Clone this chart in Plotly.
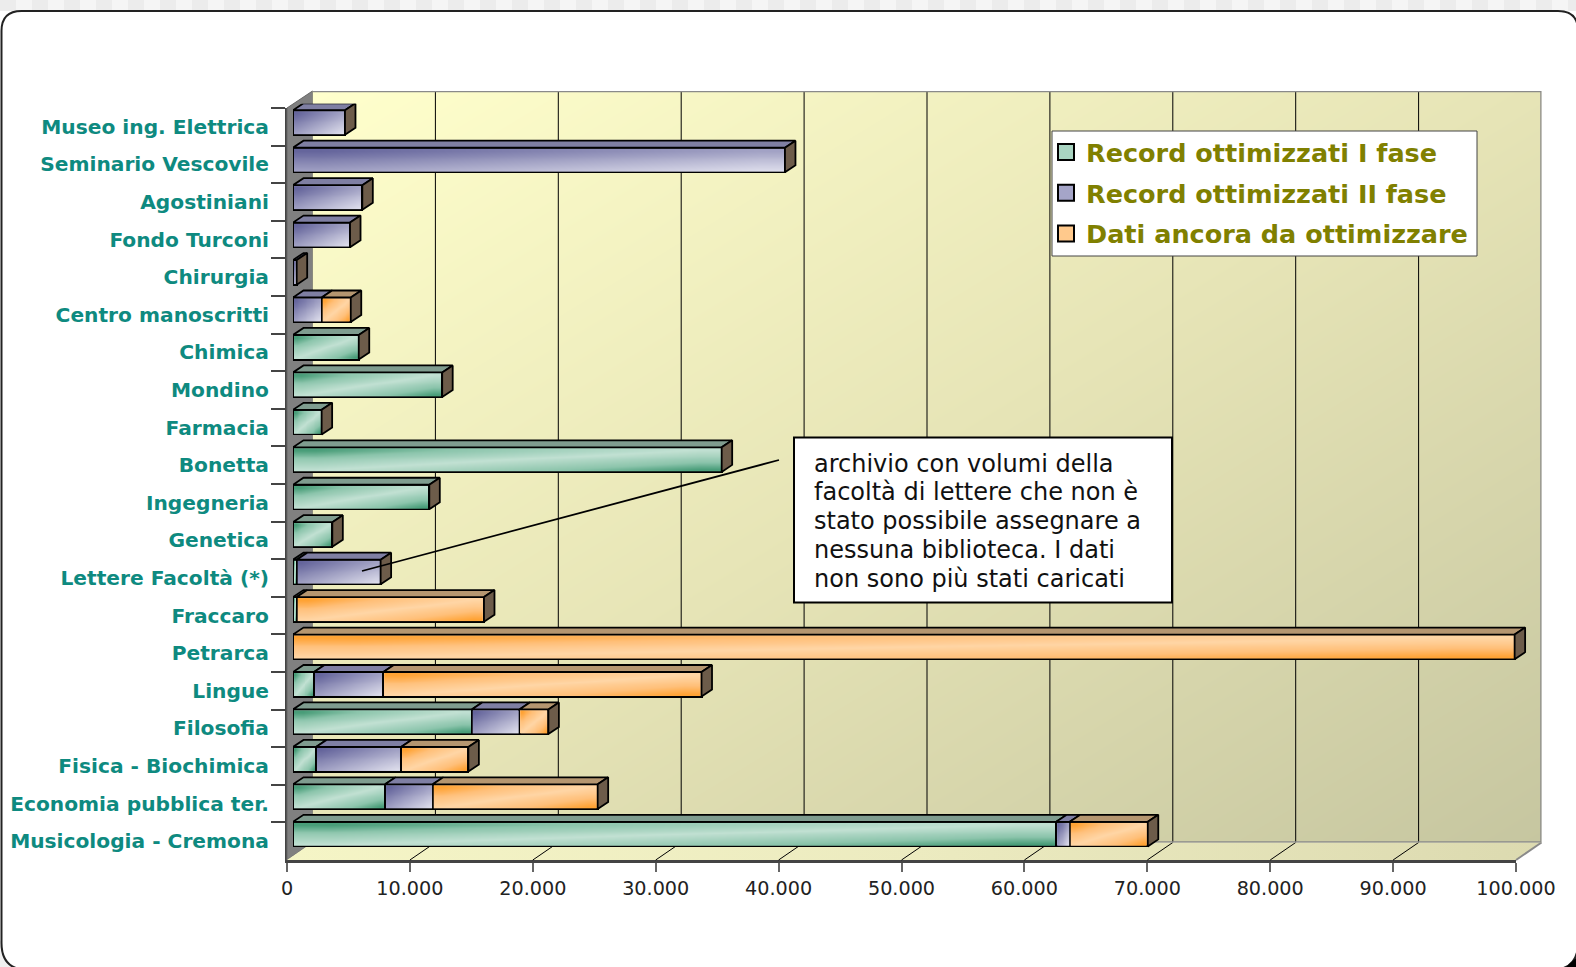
import numpy as np
import plotly.graph_objects as go

categories = ["Musicologia - Cremona", "Economia pubblica ter.", "Fisica - Biochimica", "Filosofia", "Lingue",
              "Petrarca", "Fraccaro", "Lettere Facoltà (*)", "Genetica", "Ingegneria", "Bonetta", "Farmacia",
              "Mondino", "Chimica", "Centro manoscritti", "Chirurgia", "Fondo Turconi", "Agostiniani",
              "Seminario Vescovile", "Museo ing. Elettrica"]
fase1 = [62100, 7490, 1870, 14540, 1710, None, 300, 300, 3200, 11090, 34880, 2330, 12140, 5350,
         None, None, None, None, None, None]
fase2 = [1100, 3880, 6920, 3880, 5640, None, None, 6830, None, None, None, None, None, None,
         2330, 300, 4640, 5640, 40030, 4230]
dati = [6350, 13420, 5480, 2360, 25890, 99400, 15240, None, None, None, None, None, None, None,
        2370, None, None, None, None, None]
series_names = ["Record ottimizzati I fase", "Record ottimizzati II fase", "Dati ancora da ottimizzare"]
x_ticks = [10000, 20000, 30000, 40000, 50000, 60000, 70000, 80000, 90000]
note_lines = ["archivio con volumi della", "facoltà di lettere che non è", "stato possibile assegnare a",
              "nessuna biblioteca. I dati", "non sono più stati caricati"]

W, H = 1576, 967
FONT = "DejaVu Sans"
TEAL = "#0e8a80"
OLIVE = "#808000"
SOLID = ["#a9d4c1", "#a5a5c8", "#ffc98c"]
TOPS = ["#7f9c8f", "#7f7fa3", "#b59670"]
SIDE = "#6d5c4a"
SCALES = [
    [[0, "#2c8c63"], [0.22, "#8cc5ac"], [0.5, "#c2e1d3"], [0.78, "#8cc5ac"], [1, "#2c8c63"]],
    [[0, "#5c5c96"], [1, "#e4e4f0"]],
    [[0, "#ff981a"], [0.25, "#ffc07a"], [0.5, "#ffd6a6"], [0.75, "#ffc07a"], [1, "#ff981a"]],
]
# plane geometry in page pixels: left, right, top, bottom
FRONT = (287, 1516, 108, 860)
BACK = (312.5, 1541.5, 91, 842.5)
BARS = (293, 1522, 103.8, 852.8)
EXTRA_PX = 24  # room to the right of the bar plane for the depth of the longest bar


def dom_x(p):
    return [p[0] / W, p[1] / W]


def dom_y(p):
    return [1 - p[3] / H, 1 - p[2] / H]


def fx(v):
    return FRONT[0] + v * (FRONT[1] - FRONT[0]) / 100000


fig = go.Figure()

# front plane: carries the labelled axes
fig.add_trace(go.Scatter(x=[0] * len(categories), y=categories, mode="markers", marker=dict(opacity=0),
                         showlegend=False, hoverinfo="skip", xaxis="x", yaxis="y"))

# pixel plane: side wall and floor
fig.add_trace(go.Scatter(x=[FRONT[0], BACK[0], BACK[0], FRONT[0], FRONT[0]],
                         y=[FRONT[2], BACK[2], BACK[3], FRONT[3], FRONT[2]],
                         fill="toself", fillcolor="#808080", mode="lines", line=dict(color="#666666", width=1),
                         showlegend=False, hoverinfo="skip", xaxis="x2", yaxis="y2"))
fig.add_trace(go.Scatter(x=[FRONT[0], FRONT[1], BACK[1], BACK[0], FRONT[0]],
                         y=[FRONT[3], FRONT[3], BACK[3], BACK[3], FRONT[3]],
                         fill="toself", mode="none",
                         fillgradient=dict(type="horizontal",
                                           colorscale=[[0, "#f5f5c6"], [0.5, "#ecebc0"], [1, "#dcdab0"]]),
                         showlegend=False, hoverinfo="skip", xaxis="x2", yaxis="y2"))
fl_x, fl_y = [], []
for v in x_ticks:
    fl_x += [fx(v), fx(v) + BACK[0] - FRONT[0], None]
    fl_y += [FRONT[3], BACK[3], None]
fig.add_trace(go.Scatter(x=fl_x, y=fl_y, mode="lines", line=dict(color="black", width=1),
                         showlegend=False, hoverinfo="skip", xaxis="x2", yaxis="y2"))
fig.add_trace(go.Scatter(x=[FRONT[1], BACK[1]], y=[FRONT[3], BACK[3]], mode="lines",
                         line=dict(color="#8a8a8a", width=2),
                         showlegend=False, hoverinfo="skip", xaxis="x2", yaxis="y2"))

# back wall with diagonal gradient and grid
fig.add_trace(go.Heatmap(x=[0, 100000], y=[0, 1], z=[[0.5, 1], [0, 0.5]], zmin=0, zmax=1, zsmooth="best",
                         colorscale=[[0, "#ffffcc"], [0.5, "#e6e4b6"], [1, "#c6c6a0"]], showscale=False,
                         hoverinfo="skip", xaxis="x3", yaxis="y3"))
gx, gy = [], []
for v in x_ticks:
    gx += [v, v, None]
    gy += [0, 1, None]
fig.add_trace(go.Scatter(x=gx, y=gy, mode="lines", line=dict(color="black", width=1),
                         showlegend=False, hoverinfo="skip", xaxis="x3", yaxis="y3"))
fig.add_trace(go.Scatter(x=[0, 100000, 100000, 0], y=[1, 1, 0, 0], mode="lines",
                         line=dict(color="#8a8a8a", width=2.5), cliponaxis=False,
                         showlegend=False, hoverinfo="skip", xaxis="x3", yaxis="y3"))

# the bars
all_series = [fase1, fase2, dati]
for name, vals, col in zip(series_names, all_series, SOLID):
    fig.add_trace(go.Bar(y=categories, x=vals, name=name, orientation="h", showlegend=False,
                         marker=dict(color=col, line=dict(color="black", width=2)),
                         hoverinfo="skip", xaxis="x4", yaxis="y4"))
    fig.add_trace(go.Scatter(x=[None], y=[None], name=name, mode="markers", legendgroup=name,
                             marker=dict(symbol="square", size=16, color=col, line=dict(color="black", width=2)),
                             hoverinfo="skip", xaxis="x4", yaxis="y4"))

# gradient faces and 3D depth, derived from the values above
units_x = 100000 / (BARS[1] - BARS[0])
step_y = (BARS[3] - BARS[2]) / len(categories)
DX, DY = 10.5 * units_x, 7 / step_y
HALF = 12.3 / step_y
inx, iny = 1.0 * units_x, 1.0 / step_y
NX, NY = 10, 6
top_x = [[], [], []]
top_y = [[], [], []]
side_x, side_y = [], []
for r in range(len(categories)):
    left = 0
    for s, vals in enumerate(all_series):
        v = vals[r]
        if not v:
            continue
        right = left + v
        xe = np.linspace(left + inx, right - inx, NX + 1)
        ye = np.linspace(r - HALF + iny, r + HALF - iny, NY + 1)
        z = [[((i + 0.5) / NX + 1 - (j + 0.5) / NY) / 2 for i in range(NX)] for j in range(NY)]
        fig.add_trace(go.Heatmap(x=xe, y=ye, z=z, zmin=0, zmax=1, zsmooth="best", colorscale=SCALES[s],
                                 showscale=False, hoverinfo="skip", xaxis="x5", yaxis="y5"))
        top_x[s] += [left, right, right + DX, left + DX, left, None]
        top_y[s] += [r + HALF, r + HALF, r + HALF + DY, r + HALF + DY, r + HALF, None]
        left = right
    side_x += [left, left + DX, left + DX, left, left, None]
    side_y += [r + HALF, r + HALF + DY, r - HALF + DY, r - HALF, r + HALF, None]
for s in range(3):
    fig.add_trace(go.Scatter(x=top_x[s], y=top_y[s], fill="toself", fillcolor=TOPS[s], mode="lines",
                             line=dict(color="black", width=1.8), showlegend=False, hoverinfo="skip",
                             cliponaxis=False, xaxis="x5", yaxis="y5"))
fig.add_trace(go.Scatter(x=side_x, y=side_y, fill="toself", fillcolor=SIDE, mode="lines",
                         line=dict(color="black", width=1.8), showlegend=False, hoverinfo="skip",
                         cliponaxis=False, xaxis="x5", yaxis="y5"))


def P(x, y):
    return f"{x/W} {1-y/H}"


# page furniture
shapes = []
for i in range(W // 16 + 1):
    shapes.append(dict(type="rect", xref="paper", yref="paper", x0=i * 16 / W, x1=(i + 1) * 16 / W,
                       y0=1 - 11 / H, y1=1, fillcolor="#f5f5f5" if i % 2 else "#ececec",
                       line=dict(width=0), layer="below"))
shapes.append(dict(type="rect", xref="paper", yref="paper", x0=0, x1=22 / W, y0=0, y1=26 / H,
                   fillcolor="#f0f0f0", line=dict(width=0), layer="below"))
r1, r2 = 20, 27
xl, xr, yt, yb = 1.5, 1578, 11, 970
frame = (f"M {P(xl, yt+r1)} Q {P(xl, yt)} {P(xl+r1, yt)} L {P(xr-r1, yt)} Q {P(xr, yt)} {P(xr, yt+r1)} "
         f"L {P(xr, yb-r2)} Q {P(xr, yb)} {P(xr-r2, yb)} L {P(xl+r2, yb)} Q {P(xl, yb)} {P(xl, yb-r2)} Z")
shapes.append(dict(type="path", xref="paper", yref="paper", layer="below", path=frame,
                   fillcolor="white", line=dict(color="#222222", width=2)))
shapes.append(dict(type="path", xref="paper", yref="paper", layer="below", fillcolor="black",
                   line=dict(width=0), path=f"M {P(1566, 967)} L {P(1576, 967)} L {P(1576, 958)} Z"))
shapes.append(dict(type="rect", xref="paper", yref="paper", x0=794 / W, x1=1172 / W, y0=1 - 602.5 / H, y1=1 - 437.5 / H,
                   fillcolor="white", line=dict(color="black", width=2), layer="above"))
shapes.append(dict(type="line", xref="paper", yref="paper", x0=362 / W, y0=1 - 571 / H, x1=779 / W, y1=1 - 460 / H,
                   line=dict(color="black", width=1.8), layer="above"))
shapes.append(dict(type="rect", xref="paper", yref="paper", x0=1052 / W, x1=1477 / W, y0=1 - 256 / H, y1=1 - 131 / H,
                   fillcolor="white", line=dict(color="#444444", width=1), layer="above"))

notes = [go.layout.Annotation(text=t, xref="paper", yref="paper", x=812 / W, y=1 - (463.5 + 28.75 * i) / H,
                              xanchor="left", yanchor="middle", align="left", showarrow=False,
                              font=dict(family=FONT, size=24, color="#111111"))
         for i, t in enumerate(note_lines)]


def hidden(domain, rng, anchor, **kw):
    return dict(domain=domain, range=rng, anchor=anchor, visible=False, fixedrange=True, **kw)


fig.update_layout(
    width=W, height=H, autosize=False, margin=dict(l=0, r=0, t=0, b=0, autoexpand=False),
    paper_bgcolor="white", plot_bgcolor="rgba(0,0,0,0)",
    separators=",.", barmode="stack", bargap=0.34,
    font=dict(family=FONT),
    shapes=shapes, annotations=notes,
    showlegend=True,
    legend=dict(x=1046 / W, y=1 - 129 / H, xanchor="left", yanchor="top", bgcolor="rgba(0,0,0,0)",
                borderwidth=0, font=dict(family=FONT, size=25.5, color=OLIVE, weight="bold"), tracegroupgap=4.5,
                itemwidth=30, itemsizing="trace", traceorder="grouped"),
    xaxis=dict(domain=dom_x(FRONT), range=[0, 100000], anchor="y", tick0=0, dtick=10000, tickformat=",d",
               ticks="outside", ticklen=9.5, tickwidth=2, tickcolor="#666666", showgrid=False, zeroline=False,
               showline=True, linecolor="#444444", linewidth=2.5, fixedrange=True, automargin=False,
               tickfont=dict(family=FONT, size=19.2, color="#222222")),
    yaxis=dict(domain=dom_y(FRONT), range=[-0.5, 19.5], anchor="x", type="category", categoryorder="array",
               categoryarray=categories, tickson="boundaries", ticks="outside", ticklen=14, tickwidth=1.5,
               tickcolor="#444444", showgrid=False, zeroline=False, showline=True, linecolor="#444444",
               linewidth=2, fixedrange=True, ticklabelstandoff=12, automargin=False,
               tickfont=dict(family=FONT, size=20.2, color=TEAL, weight="bold")),
    xaxis2=hidden([0, 1], [0, W], "y2"),
    yaxis2=hidden([0, 1], [H, 0], "x2"),
    xaxis3=hidden(dom_x(BACK), [0, 100000], "y3"),
    yaxis3=hidden(dom_y(BACK), [0, 1], "x3"),
    xaxis4=hidden(dom_x(BARS), [0, 100000], "y4"),
    yaxis4=hidden(dom_y(BARS), [-0.5, 19.5], "x4", type="category", categoryorder="array", categoryarray=categories),
    xaxis5=hidden([BARS[0] / W, (BARS[1] + EXTRA_PX) / W], [0, 100000 + EXTRA_PX * units_x], "y5"),
    yaxis5=hidden(dom_y(BARS), [-0.5, 19.5], "x5"),
)

fig.write_html("out.html", post_script="document.body.style.margin='0';document.body.style.overflow='hidden';",
               config=dict(displayModeBar=False))
